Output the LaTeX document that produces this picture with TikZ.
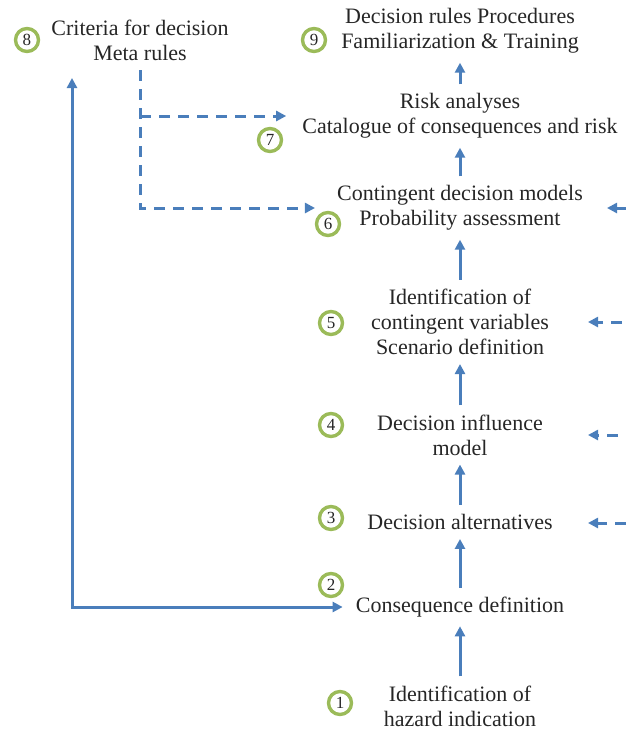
\documentclass[tikz,border=0pt]{standalone}
\usepackage{fontspec}
\setmainfont{Liberation Serif}
\usetikzlibrary{arrows.meta}
\definecolor{flowblue}{HTML}{4A7EBB}
\definecolor{ringgreen}{HTML}{9BBB59}
\tikzset{>={Triangle[length=10pt,width=10pt]},
  stage/.style={align=center, font=\fontsize{22}{25}\selectfont, text=black!85, inner sep=4pt},
  num/.style={circle, draw=ringgreen, line width=3.4pt, minimum size=23pt, inner sep=0pt, font=\fontsize{17}{17}\selectfont, text=black!85},
  flow/.style={->, draw=flowblue, line width=3pt, shorten <=5pt, shorten >=5pt},
  dflow/.style={flow, dash pattern=on 11pt off 8pt}}

\begin{document}
\begin{tikzpicture}[x=1pt,y=-1pt]
\useasboundingbox (0,0) rectangle (626,731);
% stages
\node[stage] (hazard) at (460,706) {Identification of\\hazard indication};
\node[stage] (conseq) at (460,607) {Consequence definition};
\node[stage] (altern) at (460,522) {Decision alternatives};
\node[stage] (influ)  at (460,435) {Decision influence\\model};
\node[stage] (contvar) at (460,322) {Identification of\\contingent variables\\Scenario definition};
\node[stage] (contmod) at (460,208) {Contingent decision models\\Probability assessment};
\node[stage] (risk)   at (460,116) {Risk analyses\\Catalogue of consequences and risk};
\node[stage] (rules)  at (460,31)  {Decision rules Procedures\\Familiarization \& Training};
\node[stage] (crit)   at (140,40)  {Criteria for decision\\Meta rules};
% numbers
\node[num] (c1) at (340,703) {1};
\node[num] (c2) at (331,585) {2};
\node[num] (c3) at (331,518) {3};
\node[num] (c4) at (331,425) {4};
\node[num] (c5) at (331,323) {5};
\node[num] (c6) at (328,224) {6};
\node[num] (c7) at (270,140) {7};
\node[num] (c8) at (27,40)   {8};
\node[num] (c9) at (314,40)  {9};
% main chain
\draw[flow] (hazard.north) -- (conseq.south);
\draw[flow] (conseq.north) -- (altern.south);
\draw[flow] (altern.north) -- (influ.south);
\draw[flow] (influ.north) -- (contvar.south);
\draw[flow] (contvar.north) -- (contmod.south);
\draw[flow] (contmod.north) -- (risk.south);
\draw[flow] (risk.north) -- (rules.south);
% feedback to criteria
\coordinate (up8) at (72,78);
\draw[flow,<->,shorten <=0pt,shorten >=9pt] (up8) |- (conseq.west);
\coordinate (meta) at (140,70);
\draw[dflow,shorten <=0pt,shorten >=18pt] (meta) |- (contmod.west);
\draw[dflow,shorten <=0pt,shorten >=12pt] (meta |- risk) -- (risk.west);
% inputs from the right
\coordinate (in6) at (626,208); \coordinate (to6) at (607,208);
\coordinate (in5) at (622,322); \coordinate (to5) at (588,322);
\coordinate (in4) at (618,435); \coordinate (to4) at (588,435);
\coordinate (in3) at (626,523); \coordinate (to3) at (588,523);
\draw[flow,shorten <=0pt,shorten >=0pt] (in6) -- (to6);
\draw[dflow,shorten <=0pt,shorten >=0pt] (in5) -- (to5);
\draw[dflow,shorten <=0pt,shorten >=0pt] (in4) -- (to4);
\draw[dflow,shorten <=0pt,shorten >=0pt] (in3) -- (to3);
\end{tikzpicture}
\end{document}
